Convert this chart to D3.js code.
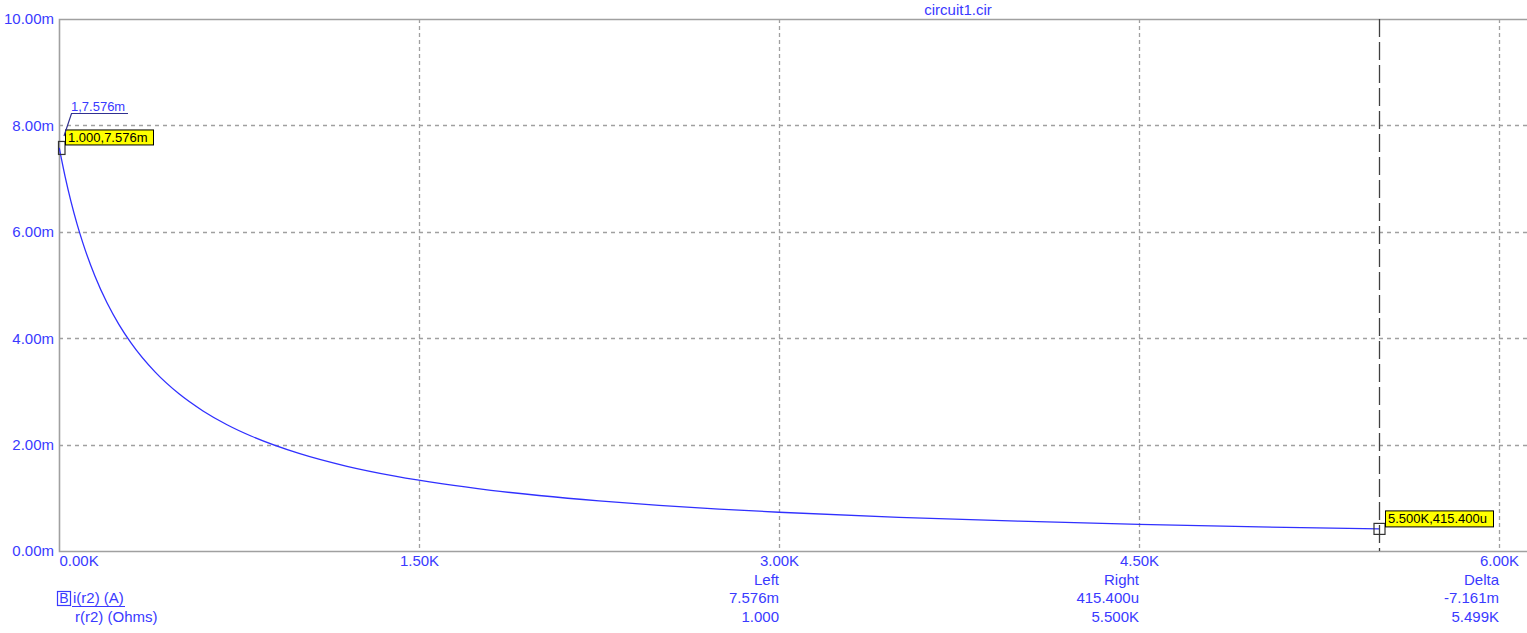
<!DOCTYPE html>
<html><head><meta charset="utf-8">
<script src="https://cdn.jsdelivr.net/npm/d3@7"></script>
<style>
body{margin:0;background:#fff;}
svg text{font-family:"Liberation Sans",Arial,sans-serif;}
</style>
</head><body><svg id="c" width="1527" height="633"></svg>
<script>
// ---- data ----
const resistance = [1,25,50,75,100,150,200,250,300,400,500,600,700,800,1000,1200,1400,1600,1800,2000,2250,2500,2750,3000,3500,4000,4500,5000,5500];
const currentMilli = [7.576,7.046,6.567,6.149,5.782,5.164,4.665,4.255,3.911,3.366,2.954,2.633,2.374,2.162,1.834,1.592,1.407,1.260,1.141,1.043,0.941,0.858,0.788,0.728,0.633,0.560,0.502,0.454,0.4154];
const xTickValues = [0,1500,3000,4500,6000];
const xTickLabels = ["0.00K","1.50K","3.00K","4.50K","6.00K"];
const yTickValues = [0,2,4,6,8,10];
const yTickLabels = ["0.00m","2.00m","4.00m","6.00m","8.00m","10.00m"];
const cursorLeft = [1, 7.576];
const cursorRight = [5500, 0.4154];
const cursorLeftLabel = "1.000,7.576m";
const cursorRightLabel = "5.500K,415.400u";
const pointTag = "1,7.576m";
const title = "circuit1.cir";
const readoutHeads = ["Left","Right","Delta"];
const readoutCurrent = ["7.576m","415.400u","-7.161m"];
const readoutResistance = ["1.000","5.500K","5.499K"];
const legendNames = ["i(r2) (A)","r(r2) (Ohms)"];

// ---- drawing ----
const W = 1527, H = 633;
const L = 59, R = 1527, T = 19, B = 551;
const blue = "#3a3aff";
const grid = "#a0a0a0";
const svg = d3.select("#c");

const x = d3.scaleLinear().domain([0,6000]).range([L,1499]);
const y = d3.scaleLinear().domain([0,10]).range([B,T]);

// gridlines
const g = svg.append("g");
g.selectAll("line.v").data(xTickValues.slice(1)).join("line")
  .attr("x1",d=>Math.round(x(d))+0.5).attr("x2",d=>Math.round(x(d))+0.5)
  .attr("y1",T).attr("y2",B)
  .attr("stroke",grid).attr("stroke-width",1.3).attr("stroke-dasharray","4,3");
g.selectAll("line.h").data(yTickValues.slice(1,-1)).join("line")
  .attr("x1",L).attr("x2",R)
  .attr("y1",d=>Math.round(y(d))+0.5).attr("y2",d=>Math.round(y(d))+0.5)
  .attr("stroke",grid).attr("stroke-width",1.3).attr("stroke-dasharray","4,4");

// frame
svg.append("path")
  .attr("d",`M${R},${T+0.5}H${L+0.5}V${B+0.5}H${R}`)
  .attr("fill","none").attr("stroke",grid).attr("stroke-width",1.6);

// axes
const yAxis = d3.axisLeft(y).tickValues(yTickValues)
  .tickFormat((d,i)=>yTickLabels[i]).tickSize(0).tickPadding(5);
const ya = svg.append("g").attr("transform",`translate(${L},0)`).call(yAxis);
ya.select(".domain").remove();
ya.selectAll("text").attr("fill",blue).style("font-size","15px")
  .style("font-family","'Liberation Sans',Arial,sans-serif");

const xAxis = d3.axisBottom(x).tickValues(xTickValues)
  .tickFormat((d,i)=>xTickLabels[i]).tickSize(0).tickPadding(4);
const xa = svg.append("g").attr("transform",`translate(0,${B})`).call(xAxis);
xa.select(".domain").remove();
xa.selectAll("text").attr("fill",blue).style("font-size","15px")
  .style("font-family","'Liberation Sans',Arial,sans-serif")
  .attr("text-anchor",(d,i)=> i===0 ? "start":"middle")
  .attr("x",(d,i)=> i===0 ? 0 : 0);

// title
svg.append("text").attr("x",958).attr("y",10).attr("dy","0.35em")
  .attr("text-anchor","middle").attr("fill",blue).style("font-size","15px").text(title);

// curve
const pts = resistance.map((r,i)=>[r,currentMilli[i]]);
svg.append("path").datum(pts)
  .attr("fill","none").attr("stroke","#3030ff").attr("stroke-width",1.3)
  .attr("d",d3.line().x(d=>x(d[0])).y(d=>y(d[1])).curve(d3.curveMonotoneX));

// right cursor
const cx = Math.round(x(cursorRight[0]))+0.5;
svg.append("line").attr("x1",cx).attr("x2",cx).attr("y1",T).attr("y2",B)
  .attr("stroke","#404040").attr("stroke-width",1.3).attr("stroke-dasharray","18,5");
const ry = y(cursorRight[1]);
svg.append("rect").attr("x",cx-5.5).attr("y",ry-5.5).attr("width",11).attr("height",11)
  .attr("fill","none").attr("stroke","#333").attr("stroke-width",1.2);
svg.append("rect").attr("x",1385.5).attr("y",ry-18).attr("width",108).attr("height",16)
  .attr("fill","#ffff00").attr("stroke","#000").attr("stroke-width",1);
svg.append("text").attr("x",1388).attr("y",ry-10).attr("dy","0.35em")
  .attr("fill","#000").style("font-size","13px").text(cursorRightLabel);

// left cursor
const lx = x(cursorLeft[0]), ly = y(cursorLeft[1]);
svg.append("rect").attr("x",L-0.5).attr("y",ly-6.5).attr("width",6.5).attr("height",13)
  .attr("fill","none").attr("stroke","#333").attr("stroke-width",1.2);
svg.append("rect").attr("x",65.5).attr("y",ly-18).attr("width",88).attr("height",15)
  .attr("fill","#ffff00").attr("stroke","#000").attr("stroke-width",1);
svg.append("text").attr("x",68).attr("y",ly-10.5).attr("dy","0.35em")
  .attr("fill","#000").style("font-size","13px").text(cursorLeftLabel);

// point tag
svg.append("path").attr("d",`M128,113.5H71.5L64,136`)
  .attr("fill","none").attr("stroke","#303090").attr("stroke-width",1.2);
svg.append("text").attr("x",71).attr("y",106).attr("dy","0.35em")
  .attr("fill",blue).style("font-size","13px").text(pointTag);

// readout table
const cols = [3000,4500,6000].map(v=>x(v));
const rows = [580,598,617];
cols.forEach((c,i)=>{
  [readoutHeads[i],readoutCurrent[i],readoutResistance[i]].forEach((t,j)=>{
    svg.append("text").attr("x",c).attr("y",rows[j]).attr("dy","0.35em")
      .attr("text-anchor","end").attr("fill",blue).style("font-size","15px").text(t);
  });
});

// legend
svg.append("rect").attr("x",57.5).attr("y",591.5).attr("width",13).attr("height",14)
  .attr("fill","none").attr("stroke",blue).attr("stroke-width",1.2);
svg.append("text").attr("x",64).attr("y",598.5).attr("dy","0.35em").attr("text-anchor","middle")
  .attr("fill",blue).style("font-size","14px").text("B");
svg.append("text").attr("x",73).attr("y",598).attr("dy","0.35em")
  .attr("fill",blue).style("font-size","15px").text(legendNames[0]);
svg.append("line").attr("x1",72).attr("x2",125).attr("y1",606.5).attr("y2",606.5)
  .attr("stroke",blue).attr("stroke-width",1);
svg.append("text").attr("x",75).attr("y",617).attr("dy","0.35em")
  .attr("fill",blue).style("font-size","15px").text(legendNames[1]);
</script>
</body></html>
